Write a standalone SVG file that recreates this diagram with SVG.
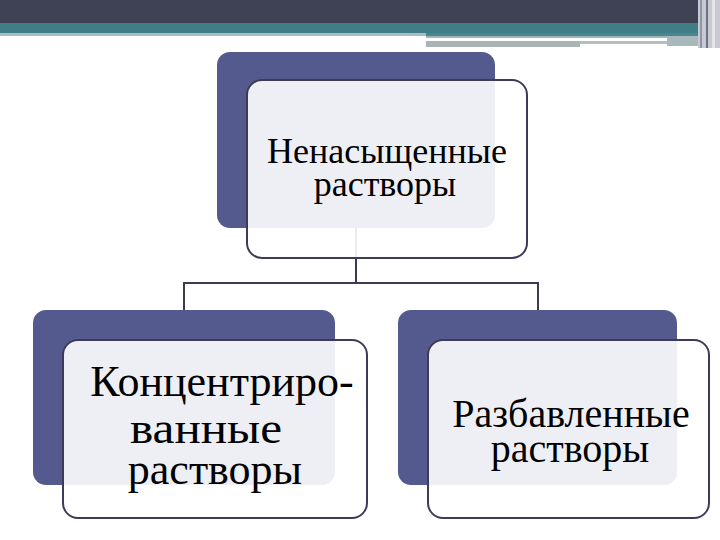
<svg xmlns="http://www.w3.org/2000/svg" width="720" height="540" viewBox="0 0 720 540">
<style>
.back{fill:#545A8E;}
.front{fill:#ffffff;fill-opacity:0.9;stroke:#3C3C58;stroke-width:2;}
.conn{fill:none;stroke:#3A3A50;stroke-width:2;}
.lbl{font-family:"Liberation Serif","Times New Roman",serif;fill:#000;text-anchor:middle;}
</style>
<rect width="720" height="540" fill="#ffffff"/>
<g id="header">
<rect x="0" y="0" width="720" height="23" fill="#3E4254"/>
<rect x="0" y="23" width="720" height="10" fill="#3F7E86"/>
<rect x="0" y="33" width="426" height="3" fill="#A8BCC2"/>
<rect x="426" y="33" width="272" height="3" fill="#4A868E"/>
<rect x="426" y="36" width="272" height="2" fill="#9DB6BA"/>
<rect x="426" y="41" width="154" height="6" fill="#A9B5B5"/>
<rect x="580" y="41" width="87" height="3" fill="#B4C0C0"/>
<rect x="667" y="36" width="31" height="10" fill="#A9B8BA"/>
<rect x="698" y="0" width="22" height="48" fill="#C9C9D2"/>
<rect x="700" y="0" width="2" height="48" fill="#8E96A6"/>
<rect x="706" y="0" width="2" height="48" fill="#6C7284"/>
<rect x="712" y="0" width="3" height="48" fill="#E4E4EA"/>
</g>
<g id="connectors">
<path class="conn" d="M356 228 V283 M184 311 V283 H538 V311"/>
</g>
<g id="node-top">
<rect class="back" x="217" y="52" width="278" height="176" rx="13"/>
<rect class="front" x="247" y="80" width="280" height="178" rx="15"/>
<text class="lbl" font-size="36"><tspan x="387" y="163">Ненасыщенные</tspan><tspan x="385" y="196">растворы</tspan></text>
</g>
<g id="node-left">
<rect class="back" x="33" y="310" width="302" height="175" rx="13"/>
<rect class="front" x="63" y="340" width="304" height="178" rx="15"/>
<text class="lbl" font-size="44"><tspan x="222" y="396">Концентриро-</tspan><tspan x="206" y="443" textLength="152" lengthAdjust="spacingAndGlyphs">ванные</tspan><tspan x="215" y="484">растворы</tspan></text>
</g>
<g id="node-right">
<rect class="back" x="398" y="310" width="279" height="175" rx="13"/>
<rect class="front" x="428" y="340" width="281" height="178" rx="15"/>
<text class="lbl" font-size="40"><tspan x="571" y="427">Разбавленные</tspan><tspan x="570" y="462">растворы</tspan></text>
</g>
</svg>
